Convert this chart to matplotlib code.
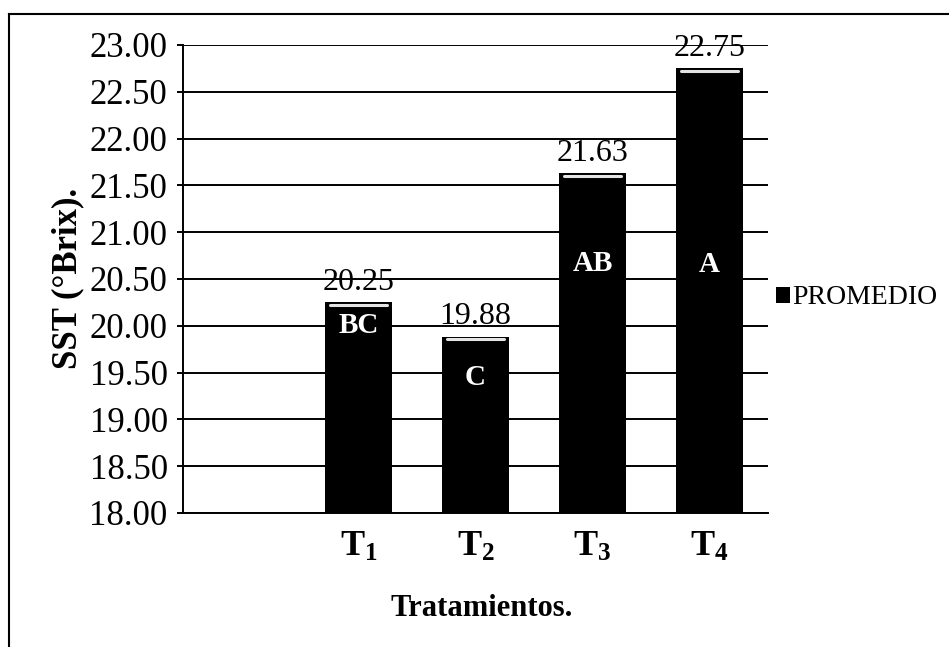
"""
sst_brix.py — soluble solids (°Brix) per treatment, bar chart with Tukey letters
"""

import matplotlib
matplotlib.use("Agg")
import matplotlib.pyplot as plt
from matplotlib.lines import Line2D

# --- data ---
treatments = [r"$\mathbf{T_1}$", r"$\mathbf{T_2}$", r"$\mathbf{T_3}$", r"$\mathbf{T_4}$"]
promedio = [20.25, 19.88, 21.63, 22.75]
letters = ["BC", "C", "AB", "A"]
y_ticks = [18.0, 18.5, 19.0, 19.5, 20.0, 20.5, 21.0, 21.5, 22.0, 22.5, 23.0]

# where each significance letter sits inside its bar (data units)
LETTER_Y = [20.0, 19.45, 20.67, 20.65]

SERIF = "Liberation Serif"
plt.rcParams["font.family"] = [SERIF, "DejaVu Serif"]
plt.rcParams["mathtext.fontset"] = "custom"
plt.rcParams["mathtext.rm"] = SERIF
plt.rcParams["mathtext.bf"] = SERIF + ":bold"


def plot_sst():
    fig = plt.figure(figsize=(9.49, 6.47), dpi=100)
    fig.patch.set_facecolor("white")
    ax = fig.add_axes([183 / 949, 134 / 647, 585 / 949, 468 / 647])

    xpos = [1, 2, 3, 4]
    bars = ax.bar(xpos, promedio, width=0.57, color="black", zorder=3,
                  label="PROMEDIO")

    # white bevel highlight along the top of each bar
    for x, v in zip(xpos, promedio):
        ax.plot([x - 0.24, x + 0.24], [v - 0.025, v - 0.025], color="#e4e4e4",
                linewidth=2.2, solid_capstyle="round", zorder=4)

    ax.bar_label(bars, fmt="%.2f", padding=4, fontsize=23, color="black")

    for x, y, txt in zip(xpos, LETTER_Y, letters):
        ax.text(x, y, txt, color="white", fontsize=21, fontweight="bold",
                ha="center", va="center", zorder=5)

    ax.set_xlim(-0.5, 4.5)
    ax.set_ylim(18.0, 23.0)
    ax.set_yticks(y_ticks)
    ax.set_yticklabels([f"{t:.2f}" for t in y_ticks], fontsize=25)
    ax.set_xticks(xpos)
    ax.set_xticklabels(treatments, fontsize=26)

    ax.yaxis.grid(True, color="black", linewidth=1.4, zorder=0)
    ax.set_axisbelow(True)
    for side in ("top", "right"):
        ax.spines[side].set_visible(False)
    for side in ("left", "bottom"):
        ax.spines[side].set_linewidth(1.4)
        ax.spines[side].set_color("black")
    ax.tick_params(axis="y", length=4, width=1.4, pad=7, direction="out")
    ax.tick_params(axis="x", length=0, pad=13)

    fig.text(68 / 949, 1 - 278 / 647, "SST (°Brix).", rotation=90,
             fontsize=25, fontweight="bold", ha="center", va="center")
    fig.text(482 / 949, 1 - 608 / 647, "Tratamientos.", fontsize=22,
             fontweight="bold", ha="center", va="center")

    fig.legend(handles=[bars], labels=["PROMEDIO"], loc="center left",
               bbox_to_anchor=(776 / 949, 1 - 298 / 647), frameon=False,
               fontsize=20, handlelength=0.5, handleheight=0.5,
               handletextpad=0.1, borderpad=0, borderaxespad=0)

    # outer frame of the chart area
    fig.add_artist(Line2D([9 / 949, 1.0], [1 - 14 / 647, 1 - 14 / 647],
                          transform=fig.transFigure, color="black", linewidth=1.5))
    fig.add_artist(Line2D([9 / 949, 9 / 949], [0.0, 1 - 14 / 647],
                          transform=fig.transFigure, color="black", linewidth=1.5))

    fig.savefig("out.png", dpi=100, facecolor="white")
    plt.close(fig)


if __name__ == "__main__":
    plot_sst()
